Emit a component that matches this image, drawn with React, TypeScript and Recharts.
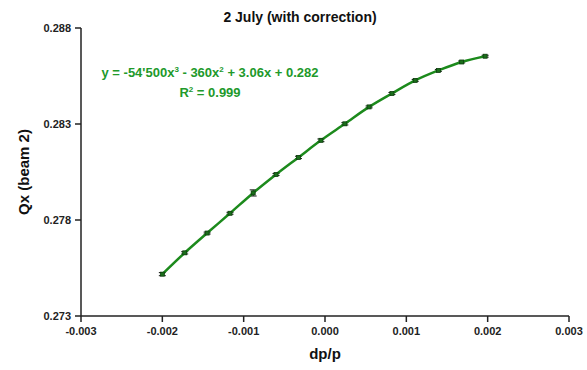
import React from 'react';
import { LineChart, Line, XAxis, YAxis, ErrorBar, Label } from 'recharts';

const dpValues = [
  -0.002, -0.001725, -0.001449, -0.001168, -0.000883, -0.000602, -0.000326, -0.00005,
  0.000244, 0.000542, 0.000823, 0.001109, 0.001394, 0.00168, 0.001969,
];
const qxValues = [
  0.27518, 0.27629, 0.27732, 0.27835, 0.27941, 0.28037, 0.28126, 0.28215,
  0.28301, 0.28389, 0.28459, 0.28527, 0.28579, 0.28623, 0.28653,
];
const qxErrors = [
  0.00008, 0.00006, 0.00005, 0.00005, 0.00016, 0.00005, 0.00006, 0.00007,
  0.00006, 0.00005, 0.00005, 0.00005, 0.00005, 0.00005, 0.00005,
];

const xTicks = [-0.003, -0.002, -0.001, 0, 0.001, 0.002, 0.003];
const yTicks = [0.273, 0.278, 0.283, 0.288];

const data = dpValues.map((dp, i) => ({ dp, qx: qxValues[i], err: qxErrors[i] }));

const FONT = '"Liberation Sans", Arial, sans-serif';
const LINE_GREEN = '#1c8a1c';
const TEXT_GREEN = '#21992a';

const SquareDot = (props: any) => {
  const { cx, cy } = props;
  if (cx == null || cy == null) return null;
  return (
    <rect x={cx - 2} y={cy - 2} width={4} height={4} fill="#1a6e1a" stroke="#0d3d0d" strokeWidth={0.8} />
  );
};

const tickStyle = { fill: '#222', fontSize: 11, fontWeight: 700, fontFamily: FONT };

export default function App() {
  return (
    <div style={{ position: 'absolute', left: 0, top: 0, width: 587, height: 370, background: '#fff', fontFamily: FONT }}>
      <div
        style={{
          position: 'absolute', left: 0, top: 8, width: 600, textAlign: 'center',
          fontSize: 14, fontWeight: 700, color: '#111', lineHeight: '18px',
        }}
      >
        2 July (with correction)
      </div>
      <div
        style={{
          position: 'absolute', left: 10, top: 61, width: 400, textAlign: 'center',
          fontSize: 13, fontWeight: 700, color: TEXT_GREEN, lineHeight: '17px',
        }}
      >
        y = -54'500x<sup style={{ fontSize: 8 }}>3</sup> - 360x<sup style={{ fontSize: 8 }}>2</sup> + 3.06x + 0.282
        <br />
        R<sup style={{ fontSize: 8 }}>2</sup> = 0.999
      </div>
      <LineChart width={587} height={370} data={data} margin={{ top: 28, right: 18, bottom: 0, left: 0 }}>
        <XAxis
          type="number"
          dataKey="dp"
          domain={[-0.003, 0.003]}
          ticks={xTicks}
          tickFormatter={(v: number) => v.toFixed(3)}
          height={54}
          tick={tickStyle}
          tickMargin={5}
          axisLine={{ stroke: '#222', strokeWidth: 1.5 }}
          tickLine={{ stroke: '#222', strokeWidth: 1.5 }}
        >
          <Label
            value="dp/p"
            position="insideBottom"
            offset={11}
            style={{ fill: '#111', fontSize: 15, fontWeight: 700, fontFamily: FONT }}
          />
        </XAxis>
        <YAxis
          type="number"
          domain={[0.273, 0.288]}
          ticks={yTicks}
          tickFormatter={(v: number) => v.toFixed(3)}
          width={81}
          tick={tickStyle}
          tickMargin={4}
          axisLine={{ stroke: '#222', strokeWidth: 1.5 }}
          tickLine={{ stroke: '#222', strokeWidth: 1.5 }}
        >
          <Label
            value="Qx (beam 2)"
            angle={-90}
            position="center"
            dx={-17}
            style={{ fill: '#111', fontSize: 15, fontWeight: 700, fontFamily: FONT, textAnchor: 'middle' }}
          />
        </YAxis>
        <Line
          type="monotone"
          dataKey="qx"
          stroke={LINE_GREEN}
          strokeWidth={2.5}
          dot={<SquareDot />}
          activeDot={false}
          isAnimationActive={false}
        >
          <ErrorBar dataKey="err" direction="y" width={3.5} stroke="#1a1a1a" strokeWidth={1} isAnimationActive={false} />
        </Line>
      </LineChart>
    </div>
  );
}
